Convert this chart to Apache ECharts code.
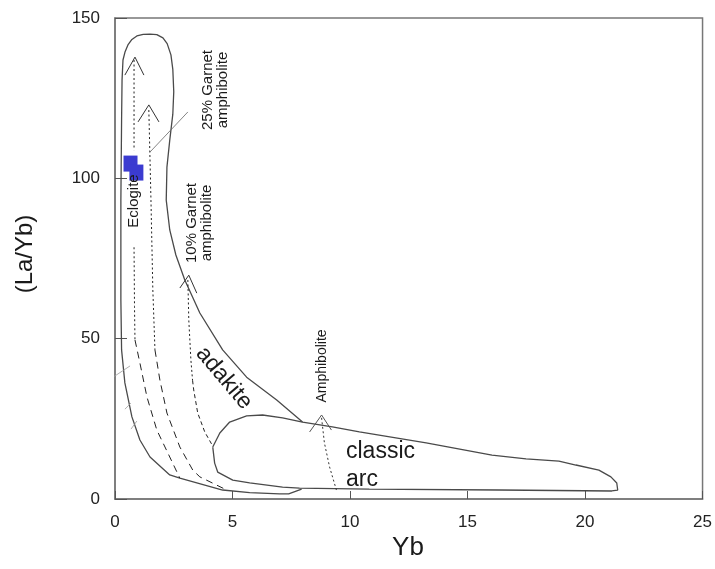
<!DOCTYPE html>
<html>
<head>
<meta charset="utf-8">
<title>(La/Yb) vs Yb</title>
<script src="https://cdn.jsdelivr.net/npm/echarts@6/dist/echarts.min.js"></script>
<style>
  html, body { margin: 0; padding: 0; background: #fff; }
  #chart { width: 715px; height: 569px; }
</style>
</head>
<body>
<div id="chart"></div>
<script>
// field outlines, [Yb, La/Yb]
const adakiteField = [
  [7.98, 24.0], [6.88, 30.9], [5.60, 38.0], [4.58, 46.5], [3.61, 58.0], [2.97, 68.3],
  [2.59, 76.1], [2.33, 83.9], [2.18, 93.2], [2.21, 103.5], [2.33, 111.9], [2.46, 120.0],
  [2.50, 127.0], [2.46, 134.0], [2.38, 138.5], [2.22, 142.0], [2.04, 143.8], [1.78, 144.8],
  [1.49, 145.0], [1.20, 144.9], [0.93, 144.4], [0.72, 143.3], [0.55, 141.6], [0.43, 139.5],
  [0.34, 136.9], [0.30, 130.7], [0.28, 118.0], [0.25, 93.0], [0.25, 62.0],
  [0.28, 46.5], [0.42, 36.2], [0.72, 25.6], [1.06, 18.4], [1.49, 13.1], [2.33, 7.5],
  [2.76, 6.5], [4.58, 2.8], [5.73, 2.0], [7.00, 1.6], [7.39, 1.6], [7.94, 3.1]
]
const classicArcField = [
  [4.16, 16.2], [4.24, 11.2], [4.37, 8.4], [5.01, 5.9], [5.73, 5.0], [7.13, 3.7],
  [7.85, 3.4], [10.82, 3.1], [16.34, 2.8], [21.14, 2.5], [21.39, 2.8], [21.35, 5.0],
  [21.10, 6.9], [20.59, 9.0], [19.61, 10.6], [18.89, 11.8], [17.49, 12.5], [16.04, 13.7],
  [13.24, 17.5], [10.40, 20.9], [9.25, 22.5], [7.98, 24.0], [7.13, 25.3], [6.28, 26.2],
  [5.60, 25.9], [4.88, 24.0], [4.46, 20.6], [4.16, 16.2]
]

// melting trends
const eclogiteTop = [[0.81, 136.9], [0.81, 108.8]]
const eclogiteMid = [[0.81, 78.5], [0.83, 60.0], [0.85, 49.6]]
const eclogiteLow = [[0.85, 49.6], [1.06, 42.4], [1.36, 31.8], [1.78, 21.5], [2.33, 13.1], [2.76, 6.5]]
const garnet25Top = [[1.44, 121.3], [1.53, 93.2], [1.61, 65.2], [1.70, 46.5]]
const garnet25Low = [[1.70, 46.5], [1.91, 37.1], [2.21, 26.8], [2.76, 16.2], [3.31, 9.0], [3.61, 6.9], [4.67, 3.1]]
const garnet10Top = [[3.10, 68.3], [3.14, 55.8], [3.23, 43.3], [3.30, 37.0]]
const garnet10Low = [[3.30, 37.0], [3.35, 34.0], [3.52, 26.8], [3.82, 20.9], [4.16, 16.5]]
const amphiboliteTrend = [[8.79, 25.3], [8.91, 17.5], [9.13, 10.0], [9.42, 2.8]]

// open arrow heads
const arrowEclogite = [[0.42, 132.2], [0.85, 137.8], [1.23, 132.2]]
const arrowGarnet25 = [[0.98, 117.6], [1.44, 122.9], [1.87, 117.6]]
const arrowGarnet10 = [[2.76, 65.8], [3.14, 69.8], [3.48, 64.2]]
const arrowAmphibolite = [[8.28, 20.9], [8.79, 26.2], [9.21, 21.5]]

const leader25 = [[1.49, 108.2], [3.10, 120.7]]
const strayMarks = [
  [[-0.08, 38.0], [0.64, 41.5]],
  [[0.42, 28.0], [0.68, 29.9]],
  [[0.68, 21.8], [0.93, 24.3]]
]

// sample
const samples = [[0.66, 104.6], [0.91, 101.8]]

const xTicks = { min: 0, max: 25, step: 5 }
const yTicks = { min: 0, max: 150, step: 50 }

const FONT = 'Liberation Sans, Arial, Helvetica, sans-serif'

function line(data, color, width, type, clip) {
  return {
    type: 'line',
    data: data,
    symbol: 'none',
    silent: true,
    clip: clip !== false,
    lineStyle: { color: color, width: width, type: type || 'solid' },
    z: 2
  }
}

function txt(x, y, text, size, rot, align) {
  return {
    type: 'text',
    x: x,
    y: y,
    rotation: rot || 0,
    style: {
      text: text,
      font: size + 'px ' + FONT,
      fill: '#1a1a1a',
      align: align || 'center',
      verticalAlign: 'middle',
      textAlign: align || 'center',
      textVerticalAlign: 'middle'
    },
    z: 10
  }
}

const chart = echarts.init(document.getElementById('chart'))

const series = [
  line(adakiteField, '#4a4a4a', 1.3),
  line(classicArcField, '#4a4a4a', 1.3),
  line(eclogiteTop, '#222', 1, [2, 2.5]),
  line(eclogiteMid, '#222', 1, [2, 2.5]),
  line(eclogiteLow, '#222', 1, [7, 5]),
  line(garnet25Top, '#222', 1, [2, 2.5]),
  line(garnet25Low, '#222', 1, [7, 5]),
  line(garnet10Top, '#222', 1, [2, 2.5]),
  line(garnet10Low, '#222', 1, [4, 3]),
  line(amphiboliteTrend, '#333', 1, [2, 2.5]),
  line(arrowEclogite, '#333', 1),
  line(arrowGarnet25, '#333', 1),
  line(arrowGarnet10, '#333', 1),
  line(arrowAmphibolite, '#555', 1),
  line(leader25, '#666', 0.8)
]
strayMarks.forEach(function (m) {
  series.push(line(m, '#9a9a9a', 0.8, 'solid', false))
})
series.push({
  type: 'scatter',
  data: samples,
  symbol: 'rect',
  symbolSize: [14, 16],
  itemStyle: { color: '#3b3bd0', opacity: 1 },
  silent: true,
  z: 5
})

chart.setOption({
  backgroundColor: '#fff',
  animation: false,
  grid: {
    left: 115, right: 11, top: 18, bottom: 70,
    show: true, borderColor: '#777', borderWidth: 1.5
  },
  xAxis: {
    type: 'value',
    min: xTicks.min, max: xTicks.max, interval: xTicks.step,
    axisLine: { lineStyle: { color: '#777', width: 1.5 } },
    axisTick: { inside: true, length: 8, lineStyle: { color: '#555' } },
    axisLabel: { fontSize: 17, color: '#222', margin: 15, fontFamily: FONT },
    splitLine: { show: false }
  },
  yAxis: {
    type: 'value',
    min: yTicks.min, max: yTicks.max, interval: yTicks.step,
    axisLine: { lineStyle: { color: '#777', width: 1.5 } },
    axisTick: { inside: true, length: 12, lineStyle: { color: '#555' } },
    axisLabel: { fontSize: 17, color: '#222', margin: 15, fontFamily: FONT },
    splitLine: { show: false }
  },
  series: series,
  graphic: [
    txt(25, 254, '(La/Yb)', 24, Math.PI / 2),
    txt(408, 548, 'Yb', 26, 0),
    txt(215, 90, '25% Garnet\namphibolite', 15, Math.PI / 2),
    txt(199, 223, '10% Garnet\namphibolite', 15, Math.PI / 2),
    txt(134, 201, 'Eclogite', 15, Math.PI / 2),
    txt(322, 366, 'Amphibolite', 14, Math.PI / 2),
    txt(224, 378, 'adakite', 23, -50 * Math.PI / 180),
    txt(346, 452, 'classic', 23, 0, 'left'),
    txt(346, 480, 'arc', 23, 0, 'left')
  ]
})
</script>
</body>
</html>
